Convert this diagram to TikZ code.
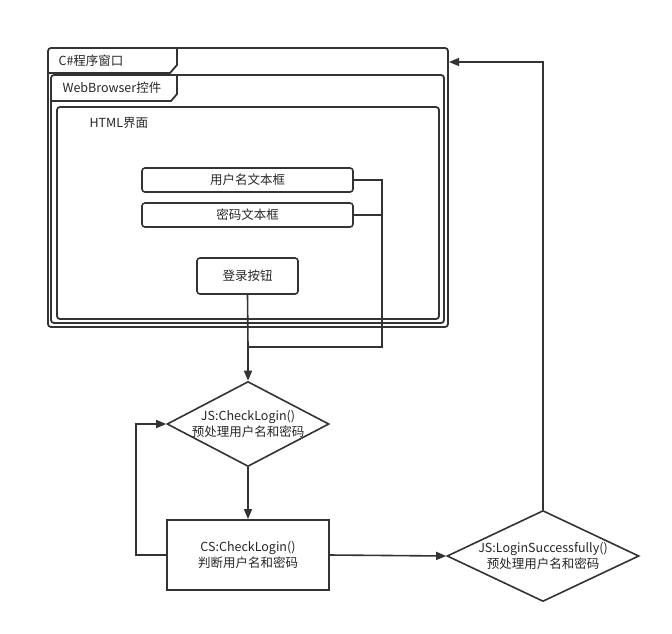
\documentclass[tikz,border=0pt]{standalone}
\usepackage{fontspec}
\setmainfont{Noto Sans CJK SC}
\usetikzlibrary{shapes.geometric,arrows.meta}
\definecolor{ln}{HTML}{333333}
\definecolor{tx}{HTML}{262626}
\begin{document}
\begin{tikzpicture}[x=1pt,y=-1pt,
  every node/.style={text=tx,font=\fontsize{12.5}{15.5}\selectfont},
  frm/.style={draw=ln,line width=1.8pt,rounded corners=3pt,inner sep=0pt},
  tbox/.style={draw=ln,line width=1.6pt,rounded corners=3pt,inner sep=0pt},
  dia/.style={draw=ln,line width=1.6pt,diamond,inner sep=0pt},
  rbox/.style={draw=ln,line width=1.8pt,inner sep=0pt,align=center},
  wire/.style={draw=ln,line width=1.6pt},
  arr/.style={wire,-{Triangle[length=10pt,width=8pt]}}]
\useasboundingbox (0,0) rectangle (672,633);
% frames
\node[frm,minimum width=400,minimum height=279] (win) at (248,187.5) {};
\draw[ln,line width=1.8pt] (48,73) -- (170,73) -- (177,65) -- (177,48);
\node[anchor=west] (wint) at (55,61) {C\#程序窗口};
\node[frm,minimum width=393,minimum height=248] (wb) at (247.5,199) {};
\draw[ln,line width=1.8pt] (51,101) -- (171,101) -- (177,94) -- (177,75);
\node[anchor=west] (wbt) at (59,88) {WebBrowser控件};
\node[frm,minimum width=382,minimum height=212] (html) at (248,213) {};
\node[anchor=west] (htmlt) at (86,123) {HTML界面};
% inner controls
\node[tbox,minimum width=211,minimum height=24] (u) at (247.5,180) {用户名文本框};
\node[tbox,minimum width=211,minimum height=24] (p) at (247.5,215) {密码文本框};
\node[tbox,minimum width=101,minimum height=36] (btn) at (247.5,276) {登录按钮};
% flow
\node[dia,minimum width=162,minimum height=85,
  label={[align=center,text=tx]center:JS:CheckLogin()\\预处理用户名和密码}] (d1) at (248,424) {};
\node[rbox,minimum width=162,minimum height=70] (cs) at (248,555) {CS:CheckLogin()\\判断用户名和密码};
\node[dia,minimum width=192,minimum height=91,
  label={[align=center,text=tx]center:JS:LoginSuccessfully()\\预处理用户名和密码}] (d2) at (543,556) {};
\coordinate (j1) at (382,347);
\coordinate (j2) at (248,347);
\coordinate (winin) at (449,62);
% connectors
\draw[wire] (u.east) -| (j1) -- (j2);
\draw[wire] (p.east) -- (p.east -| j1);
\draw[wire] (btn.south) -- (j2);
\draw[arr] (j2) -- (d1.north);
\draw[arr] (d1.south) -- (cs.north);
\draw[arr] (cs.west) -- ++(-30,0) |- (d1.west);
\draw[arr] (cs.east) -- (d2.west);
\draw[arr] (d2.north) |- (winin);
\end{tikzpicture}
\end{document}
